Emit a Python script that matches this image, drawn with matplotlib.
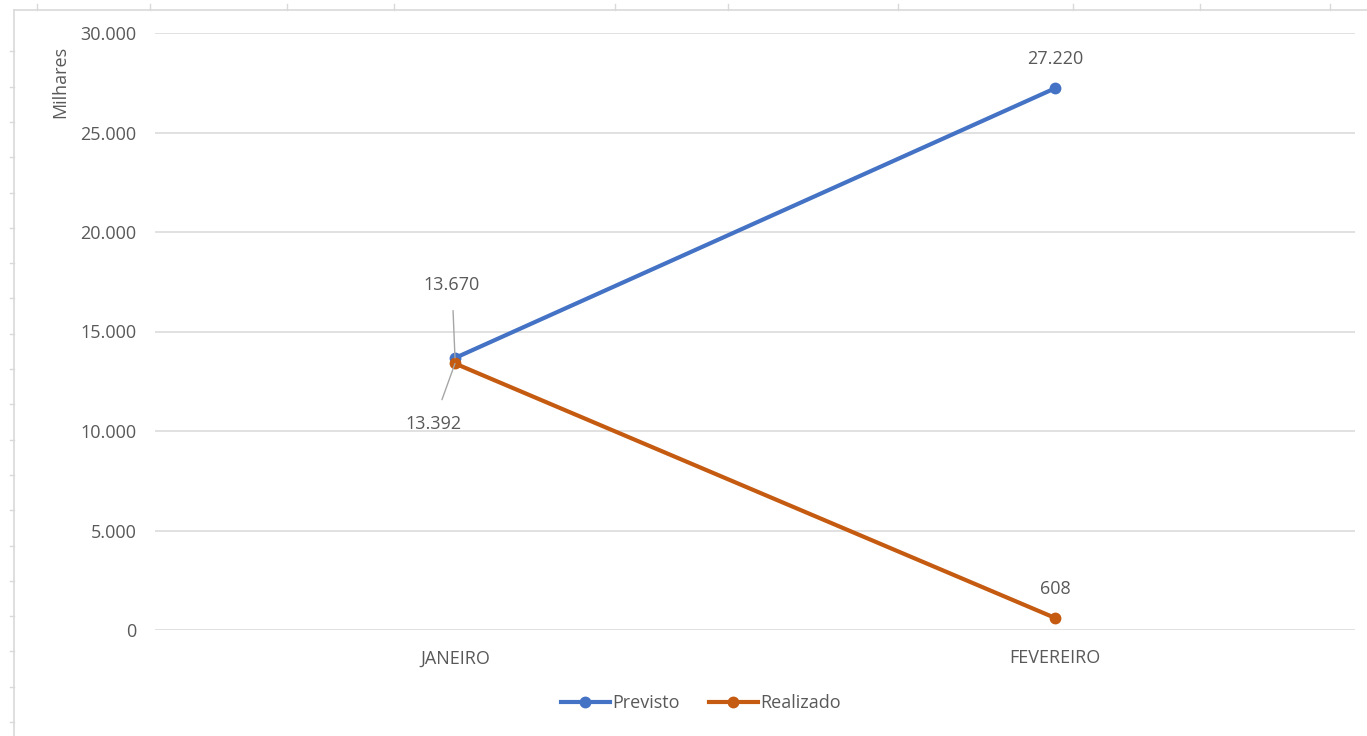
import matplotlib
matplotlib.use("Agg")
import matplotlib.pyplot as plt
from matplotlib.lines import Line2D
from matplotlib.ticker import FuncFormatter

categories = ["JANEIRO", "FEVEREIRO"]
previsto = [13670, 27220]
realizado = [13392, 608]
series_names = ["Previsto", "Realizado"]
yticks = [0, 5000, 10000, 15000, 20000, 25000, 30000]

plt.rcParams['font.family'] = ['Open Sans', 'DejaVu Sans']
TXT = "#595959"
GRID = "#d9d9d9"
BLUE = "#4472C4"
ORANGE = "#C55A11"
FS = 13

W, H = 1367, 736
fig = plt.figure(figsize=(W / 100, H / 100), dpi=100)
ax = fig.add_axes([155 / W, 1 - 630 / H, 1200 / W, 597 / H])

def fmt(v, pos=None):
    return f"{int(round(v)):,}".replace(",", ".")

x = list(range(len(categories)))
ax.plot(x, previsto, color=BLUE, lw=3, marker="o", ms=7.5, label=series_names[0],
        solid_capstyle="round", zorder=3)
ax.plot(x, realizado, color=ORANGE, lw=3, marker="o", ms=7.5, label=series_names[1],
        solid_capstyle="round", zorder=3)

ax.set_xlim(-0.5, len(categories) - 0.5)
ax.set_ylim(0, 30000)
ax.set_yticks(yticks)
ax.yaxis.set_major_formatter(FuncFormatter(fmt))
ax.set_xticks(x)
ax.set_xticklabels(categories)
ax.tick_params(axis="both", length=0, colors=TXT, labelsize=FS)
ax.tick_params(axis="y", pad=13.5)
ax.tick_params(axis="x", pad=14)
ax.grid(axis="y", color=GRID, lw=1.1)
ax.set_axisbelow(True)
for s in ax.spines.values():
    s.set_visible(False)

# y label near top
fig.text(60 / W, 1 - 82 / H, "Milhares", rotation=90, ha="center", va="center",
         color=TXT, fontsize=FS)

# data labels
ax.annotate(fmt(previsto[1]), (x[1], previsto[1]), xytext=(0, 29),
            textcoords="offset pixels", ha="center", va="center", color=TXT, fontsize=FS)
ax.annotate(fmt(realizado[1]), (x[1], realizado[1]), xytext=(0, 29),
            textcoords="offset pixels", ha="center", va="center", color=TXT, fontsize=FS)
ax.annotate(fmt(previsto[0]), (x[0], previsto[0]), xytext=(-3, 73),
            textcoords="offset pixels", ha="center", va="center", color=TXT, fontsize=FS,
            arrowprops=dict(arrowstyle="-", color="#a6a6a6", lw=1, shrinkA=10, shrinkB=0))
ax.annotate(fmt(realizado[0]), (x[0], realizado[0]), xytext=(-22, -61),
            textcoords="offset pixels", ha="center", va="center", color=TXT, fontsize=FS,
            arrowprops=dict(arrowstyle="-", color="#a6a6a6", lw=1, shrinkA=10, shrinkB=0))

# legend
handles = [Line2D([], [], color=BLUE, lw=3, marker="o", ms=7.5),
           Line2D([], [], color=ORANGE, lw=3, marker="o", ms=7.5)]
fig.legend(handles, series_names, loc="center", bbox_to_anchor=(701 / W, 1 - 703 / H),
           ncol=2, frameon=False, fontsize=FS, labelcolor=TXT, handlelength=2.7,
           handletextpad=0.15, columnspacing=1.6)

# chart area border (spreadsheet frame)
fig.add_artist(Line2D([14 / W, 1], [1 - 10 / H, 1 - 10 / H], color=GRID, lw=1.2,
                      transform=fig.transFigure))
fig.add_artist(Line2D([14 / W, 14 / W], [0, 1 - 10 / H], color=GRID, lw=1.2,
                      transform=fig.transFigure))
col_ticks = [37, 150, 287, 394, 615, 728, 898, 1073, 1200, 1330]
for cx in col_ticks:
    fig.add_artist(Line2D([cx / W, cx / W], [1 - 4 / H, 1 - 10 / H], color=GRID, lw=1,
                          transform=fig.transFigure))
k = 0
while 722 - 35.3 * k > 20:
    ry = 722 - 35.3 * k
    fig.add_artist(Line2D([10 / W, 14 / W], [1 - ry / H, 1 - ry / H], color=GRID, lw=1,
                          transform=fig.transFigure))
    k += 1

fig.savefig("out.png", dpi=100, facecolor="white")
